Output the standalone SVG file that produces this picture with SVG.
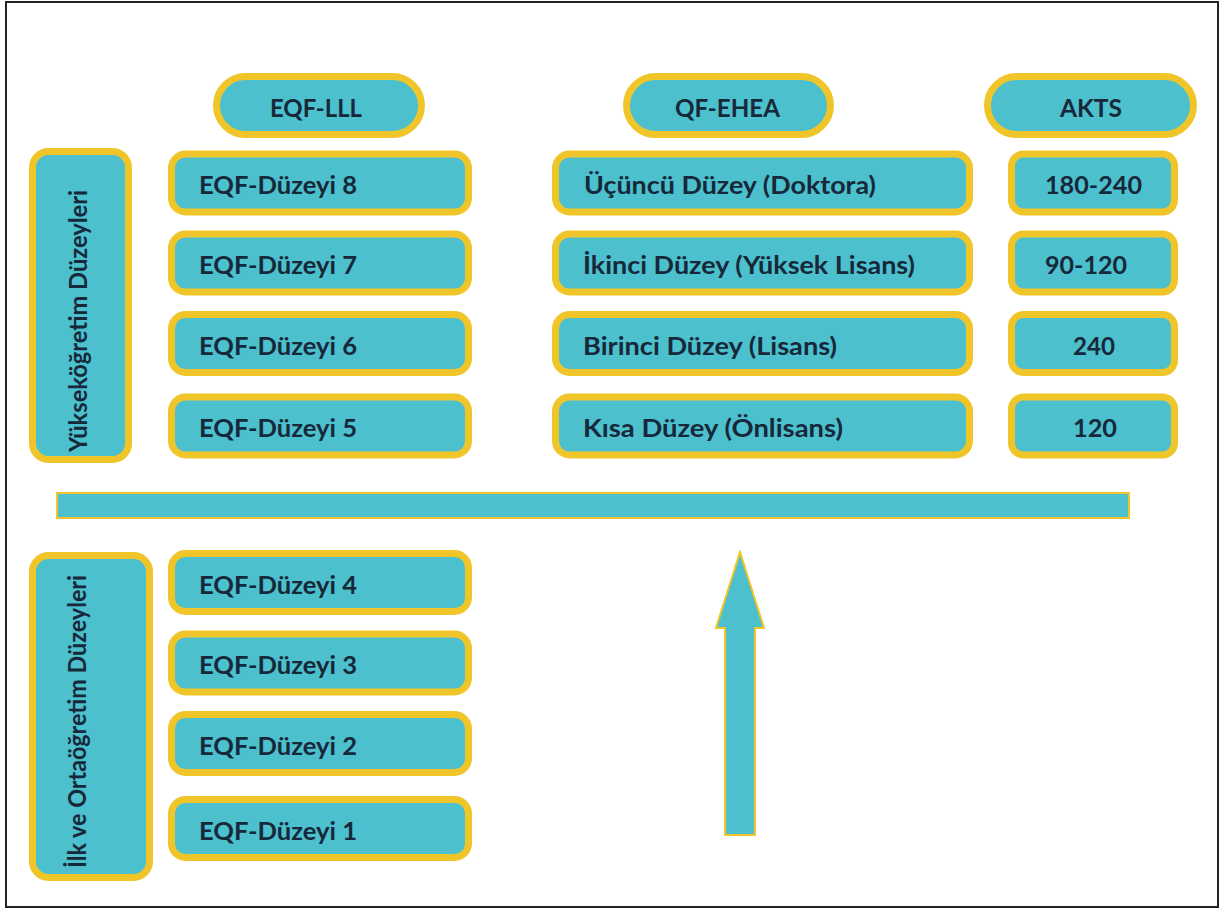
<svg xmlns="http://www.w3.org/2000/svg" width="1221" height="909" viewBox="0 0 1221 909">
<style>
.box{fill:#4CC0CD;stroke:#F0C52A;stroke-width:7}
.bar{fill:#4CC0CD;stroke:#F0C52A;stroke-width:2}
.t{font-family:Lato,"Open Sans","Liberation Sans",sans-serif;font-weight:700;font-size:24px;fill:#16283A}
.c{text-anchor:middle}
</style>
<rect x="0" y="0" width="1221" height="909" fill="#FFFFFF"/>
<rect x="6" y="2" width="1212" height="905" fill="none" stroke="#222" stroke-width="2"/>

<g id="head-eqf"><rect class="box" x="216.5" y="76.5" width="205" height="58" rx="29"/><text class="t" x="270" y="117" textLength="92" lengthAdjust="spacingAndGlyphs">EQF-LLL</text></g>
<g id="head-qf"><rect class="box" x="626.5" y="76.5" width="204" height="58" rx="29"/><text class="t" x="675" y="117" textLength="105" lengthAdjust="spacingAndGlyphs">QF-EHEA</text></g>
<g id="head-akts"><rect class="box" x="987.5" y="76.5" width="206" height="58" rx="29"/><text class="t" x="1060" y="117" textLength="62" lengthAdjust="spacingAndGlyphs">AKTS</text></g>

<g id="grp-yuksek"><rect class="box" x="32.5" y="151.5" width="96" height="308" rx="16"/><text class="t c" transform="translate(87,321) rotate(-90)" textLength="262" lengthAdjust="spacingAndGlyphs">Yükseköğretim Düzeyleri</text></g>
<g id="grp-ilk"><rect class="box" x="32.5" y="555.5" width="117" height="322" rx="16"/><text class="t c" transform="translate(86,721.5) rotate(-90)" textLength="293" lengthAdjust="spacingAndGlyphs">İlk ve Ortaöğretim Düzeyleri</text></g>

<g id="eqf8"><rect class="box" x="171.5" y="154" width="297" height="58" rx="14"/><text class="t" x="199" y="194" textLength="158" lengthAdjust="spacingAndGlyphs">EQF-Düzeyi 8</text></g>
<g id="eqf7"><rect class="box" x="171.5" y="234" width="297" height="58" rx="14"/><text class="t" x="199" y="274" textLength="158" lengthAdjust="spacingAndGlyphs">EQF-Düzeyi 7</text></g>
<g id="eqf6"><rect class="box" x="171.5" y="314.5" width="297" height="58" rx="14"/><text class="t" x="199" y="354.5" textLength="158" lengthAdjust="spacingAndGlyphs">EQF-Düzeyi 6</text></g>
<g id="eqf5"><rect class="box" x="171.5" y="397" width="297" height="58" rx="14"/><text class="t" x="199" y="437" textLength="158" lengthAdjust="spacingAndGlyphs">EQF-Düzeyi 5</text></g>
<g id="eqf4"><rect class="box" x="171.5" y="553.5" width="297" height="58" rx="14"/><text class="t" x="199" y="593.5" textLength="158" lengthAdjust="spacingAndGlyphs">EQF-Düzeyi 4</text></g>
<g id="eqf3"><rect class="box" x="171.5" y="634" width="297" height="58" rx="14"/><text class="t" x="199" y="674" textLength="158" lengthAdjust="spacingAndGlyphs">EQF-Düzeyi 3</text></g>
<g id="eqf2"><rect class="box" x="171.5" y="714.5" width="297" height="58" rx="14"/><text class="t" x="199" y="754.5" textLength="158" lengthAdjust="spacingAndGlyphs">EQF-Düzeyi 2</text></g>
<g id="eqf1"><rect class="box" x="171.5" y="799.5" width="297" height="58" rx="14"/><text class="t" x="199" y="839.5" textLength="158" lengthAdjust="spacingAndGlyphs">EQF-Düzeyi 1</text></g>

<g id="qf3"><rect class="box" x="555.5" y="154" width="414" height="58" rx="14"/><text class="t" x="584" y="194" textLength="292" lengthAdjust="spacingAndGlyphs">Üçüncü Düzey (Doktora)</text></g>
<g id="qf2"><rect class="box" x="555.5" y="234" width="414" height="58" rx="14"/><text class="t" x="583" y="274" textLength="332" lengthAdjust="spacingAndGlyphs">İkinci Düzey (Yüksek Lisans)</text></g>
<g id="qf1"><rect class="box" x="555.5" y="314.5" width="414" height="58" rx="14"/><text class="t" x="583" y="354.5" textLength="254" lengthAdjust="spacingAndGlyphs">Birinci Düzey (Lisans)</text></g>
<g id="qf0"><rect class="box" x="555.5" y="397" width="414" height="58" rx="14"/><text class="t" x="583" y="437" textLength="260" lengthAdjust="spacingAndGlyphs">Kısa Düzey (Önlisans)</text></g>

<g id="akts1"><rect class="box" x="1011.5" y="154" width="163" height="58" rx="12"/><text class="t c" x="1093.5" y="194" textLength="97" lengthAdjust="spacingAndGlyphs">180-240</text></g>
<g id="akts2"><rect class="box" x="1011.5" y="234" width="163" height="58" rx="12"/><text class="t c" x="1086" y="274" textLength="82" lengthAdjust="spacingAndGlyphs">90-120</text></g>
<g id="akts3"><rect class="box" x="1011.5" y="314.5" width="163" height="58" rx="12"/><text class="t c" x="1094" y="354.5" textLength="42" lengthAdjust="spacingAndGlyphs">240</text></g>
<g id="akts4"><rect class="box" x="1011.5" y="397" width="163" height="58" rx="12"/><text class="t c" x="1095" y="437" textLength="44" lengthAdjust="spacingAndGlyphs">120</text></g>

<g id="connectors">
<rect class="bar" x="57" y="493" width="1072" height="25"/>
<path class="bar" d="M740,552 L764,628 L755,628 L755,835 L725,835 L725,628 L716,628 Z"/>
</g>
</svg>
